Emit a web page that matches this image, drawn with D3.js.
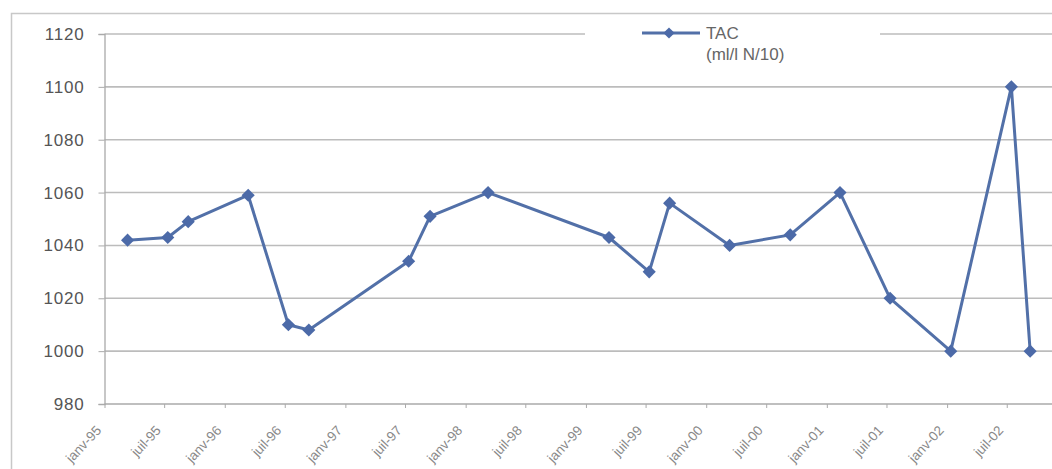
<!DOCTYPE html>
<html><head><meta charset="utf-8">
<script src="https://cdn.jsdelivr.net/npm/d3@7"></script>
<style>body{margin:0;background:#fff}svg{display:block}</style>
</head><body>
<svg id="c" width="1052" height="469"></svg>
<script>
const dates = ["1995-03-12","1995-07-12","1995-09-12","1996-03-12","1996-07-12","1996-09-12","1997-07-12","1997-09-15","1998-03-10","1999-03-12","1999-07-12","1999-09-12","2000-03-12","2000-09-12","2001-02-10","2001-07-12","2002-01-12","2002-07-15","2002-09-10"];
const tac = [1042,1043,1049,1059,1010,1008,1034,1051,1060,1043,1030,1056,1040,1044,1060,1020,1000,1100,1000];
const tickDates = ["1995-01-01","1995-07-01","1996-01-01","1996-07-01","1997-01-01","1997-07-01","1998-01-01","1998-07-01","1999-01-01","1999-07-01","2000-01-01","2000-07-01","2001-01-01","2001-07-01","2002-01-01","2002-07-01"];
const tickLabels = ["janv-95","juil-95","janv-96","juil-96","janv-97","juil-97","janv-98","juil-98","janv-99","juil-99","janv-00","juil-00","janv-01","juil-01","janv-02","juil-02"];
const yTicks = [980,1000,1020,1040,1060,1080,1100,1120];
const seriesName = ["TAC","(ml/l N/10)"];

const parse = d3.utcParse("%Y-%m-%d");
const svg = d3.select("#c");
const x0 = 104.5, pxPerMonth = 10.03;
const x = d3.scaleUtc().domain([parse("1995-01-01"), parse("2003-01-01")]).range([x0, x0 + 96*pxPerMonth]);
const y = d3.scaleLinear().domain([980,1120]).range([404,34]);
const W = 1052;

// chart border
svg.append("path").attr("d",`M11.5,469 V13.5 H${W}`).attr("fill","none").attr("stroke","#c8c8c8").attr("stroke-width",1.5);

// gridlines
svg.append("g").selectAll("line").data(yTicks.slice(1)).join("line")
  .attr("x1",x0).attr("x2",W).attr("y1",d=>y(d)).attr("y2",d=>y(d))
  .attr("stroke","#bcbcbc").attr("stroke-width",1.6);

// y axis
const yAxis = svg.append("g").attr("transform",`translate(${x0},0)`)
  .call(d3.axisLeft(y).tickValues(yTicks).tickSize(6).tickPadding(14).tickFormat(d3.format("d")));
yAxis.select(".domain").attr("stroke","#aaa").attr("stroke-width",1.3);
yAxis.selectAll(".tick line").attr("stroke","#aaa");
yAxis.selectAll("text").attr("fill","#555").style("font-family","Liberation Sans, Arial, sans-serif").style("font-size","17px").style("letter-spacing","0.8px");

// x axis
const xAxis = svg.append("g").attr("transform",`translate(0,${y(980)})`)
  .call(d3.axisBottom(x).tickValues(tickDates.map(parse)).tickSize(4).tickFormat((d,i)=>tickLabels[i]));
xAxis.select(".domain").attr("stroke","#aaa").attr("stroke-width",1.3).attr("d",`M${x0},0H${W}`);
xAxis.selectAll(".tick line").attr("stroke","#aaa");
xAxis.selectAll("text").attr("fill","#888").style("font-family","Liberation Sans, Arial, sans-serif").style("font-size","13.5px")
  .attr("text-anchor","end").attr("dy",0).attr("y",0)
  .attr("transform","translate(-3,27) rotate(-47)");

// legend background
svg.append("rect").attr("x",585).attr("y",18).attr("width",295).attr("height",50).attr("fill","#fff");

const color = "#5270a8";
const pts = dates.map((d,i)=>({d:parse(d), v:tac[i]}));
const line = d3.line().x(p=>x(p.d)).y(p=>y(p.v));
svg.append("path").datum(pts).attr("d",line).attr("fill","none").attr("stroke",color).attr("stroke-width",3).attr("stroke-linejoin","round");
const diamond = d3.symbol().type(d3.symbolDiamond2).size(110);
svg.append("g").selectAll("path").data(pts).join("path")
  .attr("transform",p=>`translate(${x(p.d)},${y(p.v)})`).attr("d",diamond).attr("fill","#4c6aa8");

// legend
const lg = svg.append("g");
lg.append("line").attr("x1",642).attr("x2",700).attr("y1",33).attr("y2",33).attr("stroke",color).attr("stroke-width",3);
lg.append("path").attr("transform","translate(669,33)").attr("d",d3.symbol().type(d3.symbolDiamond2).size(80)).attr("fill","#4c6aa8");
lg.selectAll("text").data(seriesName).join("text")
  .attr("x",706).attr("y",(d,i)=>39+i*21).text(d=>d)
  .attr("fill","#666").style("font-family","Liberation Sans, Arial, sans-serif").style("font-size","17px");
</script>
</body></html>
